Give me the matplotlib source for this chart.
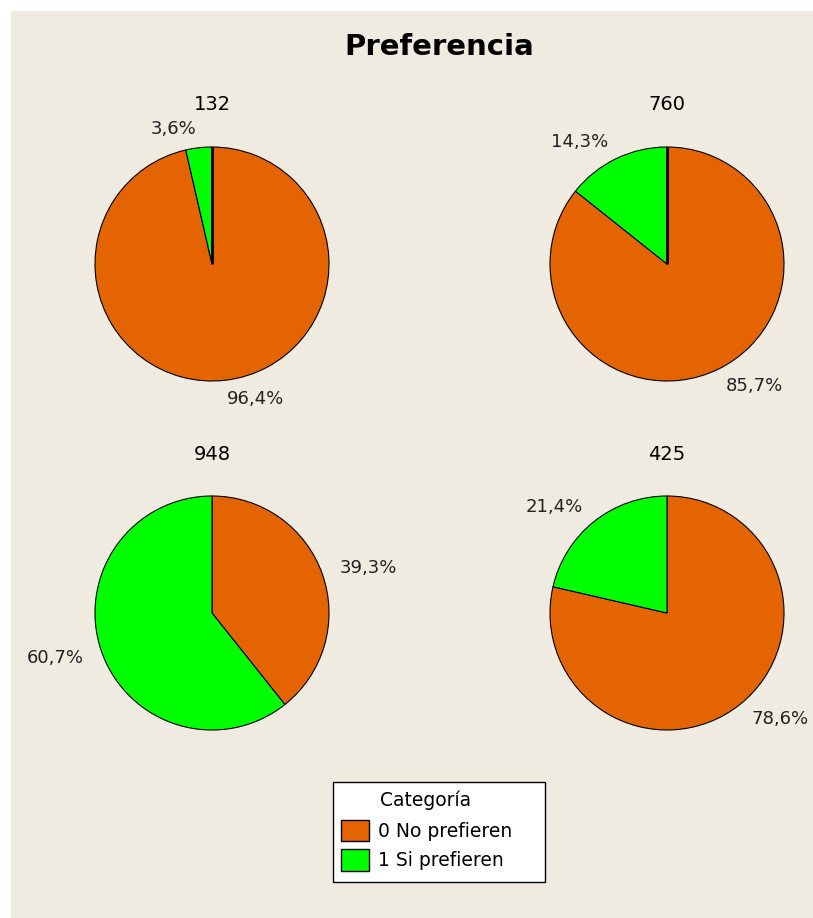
import matplotlib
matplotlib.use("Agg")
import matplotlib.pyplot as plt
from matplotlib.patches import Patch, Rectangle

plt.rcParams['font.family'] = ['DejaVu Sans']

title = "Preferencia"
groups = ["132", "760", "948", "425"]
categories = ["0 No prefieren", "1 Si prefieren"]
no_prefieren = [96.4, 85.7, 39.3, 78.6]
si_prefieren = [3.6, 14.3, 60.7, 21.4]
pct_labels_no = ["96,4%", "85,7%", "39,3%", "78,6%"]
pct_labels_si = ["3,6%", "14,3%", "60,7%", "21,4%"]
legend_title = "Categoría"

colors = ["#E36400", "#00FF00"]
bg = "#EFEBE0"

W, H = 813, 918
fig = plt.figure(figsize=(W / 100, H / 100), dpi=100)
fig.patch.set_facecolor("white")

# beige panel with white margin top/left
panel = fig.add_axes([11 / W, 0, (W - 11) / W, (H - 11) / H])
panel.set_facecolor(bg)
panel.set_xticks([]); panel.set_yticks([])
for s in panel.spines.values():
    s.set_visible(False)

fig.text(439 / W, 1 - 47 / H, title, ha="center", va="center",
         fontsize=21, fontweight="bold")

R = 117.0
centers = [(212, 264), (667, 264), (212, 613), (667, 613)]
box = 320.0
half = box / 2 / R
thick_top = [True, True, False, False]

for i, g in enumerate(groups):
    cx, cy = centers[i]
    ax = fig.add_axes([(cx - box / 2) / W, (H - cy - box / 2) / H, box / W, box / H])
    vals = [no_prefieren[i], si_prefieren[i]]
    labs = [pct_labels_no[i], pct_labels_si[i]]
    wedges, texts = ax.pie(vals, colors=colors, startangle=90, counterclock=False,
                           labels=labs, labeldistance=1.16, radius=1.0,
                           wedgeprops=dict(edgecolor="black", linewidth=0.8),
                           textprops=dict(fontsize=13, color="#222222"))
    ax.set_xlim(-half, half)
    ax.set_ylim(-half, half)
    ax.set_aspect("equal")
    ax.axis("off")
    if thick_top[i]:
        ax.plot([0, 0], [0, 1], color="black", lw=2, solid_capstyle="butt")
    fig.text(cx / W, 1 - (cy - 159) / H, g, ha="center", va="center", fontsize=14)

# legend frame
fig.patches.append(Rectangle((333 / W, 1 - 882 / H), (545 - 333) / W, (882 - 782) / H,
                             transform=fig.transFigure, facecolor="white",
                             edgecolor="black", linewidth=1.0, zorder=5))
fig.text(380 / W, 1 - 800 / H, legend_title, ha="left", va="center",
         fontsize=13.5, zorder=7)

handles = [Patch(facecolor=c, edgecolor="black", label=l) for c, l in zip(colors, categories)]
leg = fig.legend(handles=handles, loc="upper left",
                 bbox_to_anchor=(337 / W, 1 - 816 / H), frameon=False, fontsize=13.5,
                 handlelength=1.5, handleheight=1.4,
                 borderpad=0.2, labelspacing=0.4,
                 handletextpad=0.5, borderaxespad=0)
leg.set_zorder(6)

fig.savefig("out.png", dpi=100, facecolor=fig.get_facecolor())
